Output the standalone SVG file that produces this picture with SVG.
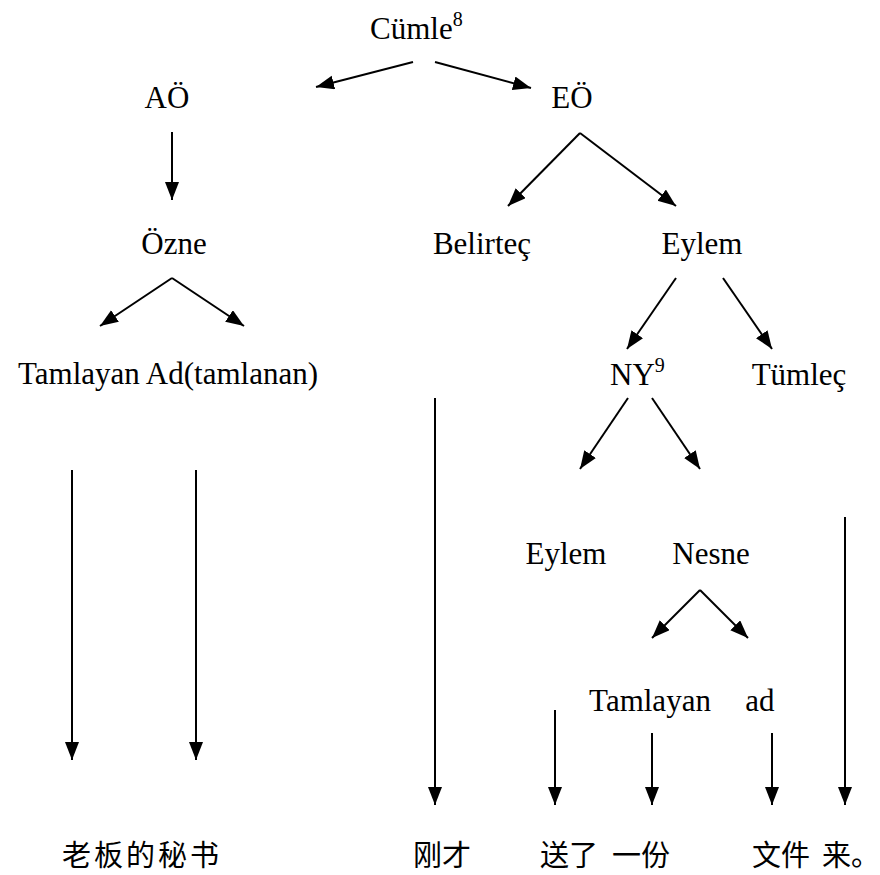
<svg xmlns="http://www.w3.org/2000/svg" width="880" height="875" viewBox="0 0 880 875">
  <style>
    .lbl { font-family: "Liberation Serif", "Times New Roman", serif; font-size: 31px; fill: #000; }
    .sup { font-size: 20px; }
    .zh { font-family: "Noto Sans CJK SC", "Noto Sans", sans-serif; font-size: 29px; fill: #000; }
    .edge { stroke: #000; stroke-width: 2; fill: none; marker-end: url(#arrow); }
  </style>
  <defs>
    <marker id="arrow" markerUnits="userSpaceOnUse" markerWidth="19" markerHeight="15" refX="18" refY="7" orient="auto">
      <path d="M0,0 L18,7 L0,14 Z" fill="#000"/>
    </marker>
  </defs>
  <rect width="880" height="875" fill="#fff"/>

  <!-- tree nodes -->
  <g id="cumle"><text class="lbl" x="370" y="39">Cümle<tspan class="sup" dy="-13">8</tspan></text></g>
  <g id="ao"><text class="lbl" x="167" y="108" text-anchor="middle">AÖ</text></g>
  <g id="eo"><text class="lbl" x="572" y="108" text-anchor="middle">EÖ</text></g>
  <g id="ozne"><text class="lbl" x="174" y="254" text-anchor="middle">Özne</text></g>
  <g id="belirtec"><text class="lbl" x="482" y="254" text-anchor="middle">Belirteç</text></g>
  <g id="eylem"><text class="lbl" x="702" y="254" text-anchor="middle">Eylem</text></g>
  <g id="tamlayan-ad"><text class="lbl" x="168" y="384" text-anchor="middle">Tamlayan Ad(tamlanan)</text></g>
  <g id="ny"><text class="lbl" x="610" y="385">NY<tspan class="sup" dy="-13">9</tspan></text></g>
  <g id="tumlec"><text class="lbl" x="799" y="385" text-anchor="middle">Tümleç</text></g>
  <g id="eylem2"><text class="lbl" x="566" y="564" text-anchor="middle">Eylem</text></g>
  <g id="nesne"><text class="lbl" x="711" y="564" text-anchor="middle">Nesne</text></g>
  <g id="tamlayan2"><text class="lbl" x="650" y="711" text-anchor="middle">Tamlayan</text></g>
  <g id="ad"><text class="lbl" x="760" y="711" text-anchor="middle">ad</text></g>

  <!-- Chinese sentence -->
  <g id="w-mishu"><text class="zh" x="62" y="866" letter-spacing="3">老板的秘书</text></g>
  <g id="w-gangcai"><text class="zh" x="413" y="866">刚才</text></g>
  <g id="w-songle"><text class="zh" x="540" y="866">送了</text></g>
  <g id="w-yifen"><text class="zh" x="612" y="866">一份</text></g>
  <g id="w-wenjian"><text class="zh" x="752" y="866">文件</text></g>
  <g id="w-lai"><text class="zh" x="822" y="866">来。</text></g>

  <!-- connectors -->
  <g id="connectors">
    <line class="edge" x1="413" y1="62" x2="316" y2="87"/>
    <line class="edge" x1="435" y1="62" x2="531" y2="88"/>
    <line class="edge" x1="172" y1="132" x2="172" y2="200"/>
    <line class="edge" x1="172" y1="278" x2="100" y2="326"/>
    <line class="edge" x1="172" y1="278" x2="244" y2="326"/>
    <line class="edge" x1="580" y1="133" x2="508" y2="206"/>
    <line class="edge" x1="580" y1="133" x2="676" y2="206"/>
    <line class="edge" x1="676" y1="278" x2="627" y2="349"/>
    <line class="edge" x1="723" y1="278" x2="772" y2="349"/>
    <line class="edge" x1="628" y1="398" x2="580" y2="469"/>
    <line class="edge" x1="652" y1="398" x2="700" y2="469"/>
    <line class="edge" x1="700" y1="590" x2="652" y2="638"/>
    <line class="edge" x1="700" y1="590" x2="748" y2="638"/>
    <line class="edge" x1="72" y1="470" x2="72" y2="760"/>
    <line class="edge" x1="196" y1="470" x2="196" y2="760"/>
    <line class="edge" x1="435" y1="398" x2="435" y2="805"/>
    <line class="edge" x1="555" y1="710" x2="555" y2="805"/>
    <line class="edge" x1="652" y1="733" x2="652" y2="805"/>
    <line class="edge" x1="772" y1="733" x2="772" y2="805"/>
    <line class="edge" x1="845" y1="517" x2="845" y2="805"/>
  </g>
</svg>
